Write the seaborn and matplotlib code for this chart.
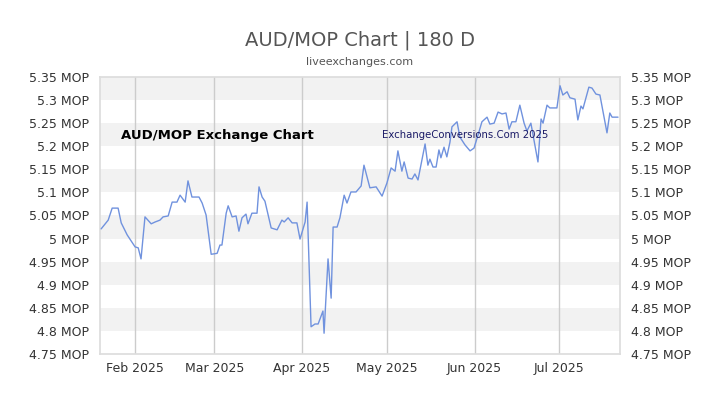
import numpy as np
import pandas as pd
import matplotlib
matplotlib.use("Agg")
import matplotlib.pyplot as plt
import seaborn as sns

# days after 2025-02-01
day_offsets = [-12.0, -9.5, -8.1, -6.0, -4.9, -2.8, 0, 1.1, 2.1, 3.5, 5.7, 7.1, 8.8, 9.9, 11.7, 13.1,
               14.8, 15.9, 17.7, 18.7, 20.1, 22.6, 23.7, 25.1, 26.9, 29.0, 30.0, 30.7, 32.2, 32.9,
               34.3, 35.7, 36.7, 37.8, 39.2, 39.9, 41.3, 43.1, 43.8, 44.9, 45.9, 48.1, 50.2, 51.9,
               52.7, 54.1, 55.5, 57.2, 58.3, 60.1, 60.8, 62.2, 63.6, 64.7, 66.4, 66.8, 68.2, 69.3,
               70.0, 71.4, 72.4, 73.9, 74.9, 76.3, 78.1, 79.9, 80.9, 83.0, 85.2, 87.3, 89.0, 90.5,
               91.9, 92.9, 94.3, 95.1, 96.5, 97.9, 98.9, 100.0, 102.5, 103.5, 104.2, 105.3, 106.4,
               107.4, 108.1, 109.2, 110.2, 111.3, 112.0, 113.8, 114.8, 116.6, 118.4, 119.8, 121.2,
               122.6, 124.4, 125.4, 126.9, 128.3, 129.7, 131.1, 132.2, 133.2, 134.6, 136.0, 137.5,
               138.5, 139.9, 142.4, 143.5, 144.2, 145.6, 146.6, 149.1, 150.2, 151.2, 152.7, 153.7,
               155.5, 156.5, 157.6, 158.3, 160.4, 161.5, 162.9, 164.3, 166.8, 167.8, 168.6, 170.7]
rates = [5.021, 5.040, 5.066, 5.066, 5.034, 5.008, 4.982, 4.980, 4.956, 5.047, 5.032, 5.036, 5.040,
         5.047, 5.049, 5.079, 5.079, 5.094, 5.079, 5.125, 5.090, 5.090, 5.077, 5.051, 4.966, 4.968,
         4.986, 4.986, 5.055, 5.071, 5.047, 5.049, 5.016, 5.045, 5.053, 5.032, 5.055, 5.055, 5.112,
         5.090, 5.081, 5.023, 5.019, 5.040, 5.036, 5.045, 5.034, 5.034, 4.999, 5.036, 5.079, 4.809,
         4.815, 4.815, 4.843, 4.795, 4.956, 4.871, 5.025, 5.025, 5.045, 5.094, 5.077, 5.101, 5.101,
         5.114, 5.159, 5.110, 5.112, 5.092, 5.120, 5.153, 5.146, 5.190, 5.146, 5.166, 5.131, 5.129,
         5.140, 5.127, 5.205, 5.159, 5.172, 5.155, 5.155, 5.192, 5.175, 5.198, 5.177, 5.209, 5.242,
         5.253, 5.220, 5.203, 5.190, 5.196, 5.224, 5.253, 5.263, 5.248, 5.250, 5.274, 5.270, 5.272,
         5.237, 5.253, 5.253, 5.289, 5.250, 5.233, 5.250, 5.166, 5.259, 5.250, 5.289, 5.283, 5.283,
         5.331, 5.311, 5.318, 5.305, 5.302, 5.257, 5.287, 5.281, 5.328, 5.326, 5.313, 5.311, 5.229,
         5.272, 5.263, 5.263]

month_ticks = ["2025-02-01", "2025-03-01", "2025-04-01", "2025-05-01", "2025-06-01", "2025-07-01"]
month_labels = ["Feb 2025", "Mar 2025", "Apr 2025", "May 2025", "Jun 2025", "Jul 2025"]
y_ticks = [4.75, 4.8, 4.85, 4.9, 4.95, 5.0, 5.05, 5.1, 5.15, 5.2, 5.25, 5.3, 5.35]
y_labels = ["4.75 MOP", "4.8 MOP", "4.85 MOP", "4.9 MOP", "4.95 MOP", "5 MOP", "5.05 MOP",
            "5.1 MOP", "5.15 MOP", "5.2 MOP", "5.25 MOP", "5.3 MOP", "5.35 MOP"]

base = pd.Timestamp("2025-02-01")
df = pd.DataFrame({"date": [base + pd.Timedelta(days=d) for d in day_offsets], "rate": rates})

sns.set_theme(style="white", font="DejaVu Sans")
fig = plt.figure(figsize=(7.2, 4.05), dpi=100)
ax = fig.add_axes([100 / 720, 1 - 354 / 405, 520 / 720, 277 / 405])

# alternating horizontal bands
for i in range(len(y_ticks) - 1):
    if (len(y_ticks) - 2 - i) % 2 == 0:
        ax.axhspan(y_ticks[i], y_ticks[i + 1], color="#f2f2f2", zorder=0, lw=0)
for t in month_ticks:
    ax.axvline(pd.Timestamp(t), color="#cccccc", lw=1, zorder=1)

sns.lineplot(data=df, x="date", y="rate", ax=ax, color="#7092de", lw=1, zorder=3)

ax.set_xlim(base + pd.Timedelta(days=-12.4), base + pd.Timedelta(days=171.4))
ax.set_ylim(4.75, 5.35)
ax.set_xticks([pd.Timestamp(t) for t in month_ticks])
ax.set_xticklabels(month_labels, fontsize=9, color="#333333")
ax.set_yticks(y_ticks)
ax.set_yticklabels(y_labels, fontsize=9, color="#333333")
ax.tick_params(axis="y", left=True, right=True, labelleft=True, labelright=True, length=0, pad=8)
ax.tick_params(axis="x", length=0, pad=6)
ax.set_xlabel("")
ax.set_ylabel("")
for s in ax.spines.values():
    s.set_color("#dddddd")

ax.text(0.04, 0.79, "AUD/MOP Exchange Chart", transform=ax.transAxes, fontsize=9.5,
        fontweight="bold", color="black", va="center")
ax.text(0.543, 0.79, "ExchangeConversions.Com 2025", transform=ax.transAxes, fontsize=7.3,
        color="#1a1a66", va="center")

fig.text(0.5, 1 - 40 / 405, "AUD/MOP Chart | 180 D", ha="center", va="center", fontsize=14, color="#555555")
fig.text(0.5, 1 - 62 / 405, "liveexchanges.com", ha="center", va="center", fontsize=8, color="#555555")

fig.savefig("out.png", dpi=100)
